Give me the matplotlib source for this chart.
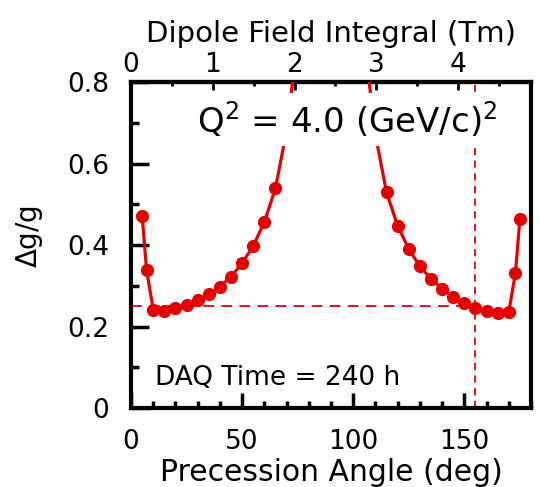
import numpy as np
import matplotlib
matplotlib.use('Agg')
from matplotlib import pyplot as plt
from matplotlib.ticker import MultipleLocator, FixedLocator, FuncFormatter

plt.rcParams['font.family'] = ['DejaVu Sans']
plt.rcParams['mathtext.fontset'] = 'dejavusans'

# precession angle (deg) and relative error dg/g
angle = [5, 7, 10, 15, 20, 25, 30, 35, 40, 45, 50, 55, 60, 65, 70, 75,
         105, 110, 115, 120, 125, 130, 135, 140, 145, 150, 155, 160, 165, 170, 173, 175]
dg_g = [0.472, 0.339, 0.241, 0.237, 0.245, 0.252, 0.265, 0.279, 0.298, 0.322,
        0.355, 0.398, 0.456, 0.539, 0.68, 0.90,
        0.90, 0.67, 0.529, 0.447, 0.390, 0.348, 0.317, 0.293, 0.273, 0.257,
        0.246, 0.239, 0.232, 0.236, 0.331, 0.463]

chosen_angle = 155
chosen_dg = 0.25
deg_per_tm = 36.8
tm_ticks = [0, 1, 2, 3, 4]

red = '#e60000'

fig = plt.figure(figsize=(5.4, 4.87), dpi=100)
ax = fig.add_axes([0.2426, 0.1622, 0.9833 - 0.2426, 0.8316 - 0.1622])

ax.plot(angle, dg_g, color=red, lw=2.3, marker='o', ms=8.5, zorder=3)
ax.plot([0, chosen_angle], [chosen_dg, chosen_dg], color=red, lw=1.3,
        dashes=(6, 4), zorder=2)
ax.axvline(chosen_angle, color=red, lw=1.3, dashes=(4, 3), zorder=2)

ax.set_xlim(0, 180)
ax.set_ylim(0, 0.8)
ax.xaxis.set_major_locator(MultipleLocator(50))
ax.xaxis.set_minor_locator(MultipleLocator(10))
ax.yaxis.set_major_locator(MultipleLocator(0.2))
ax.yaxis.set_minor_locator(MultipleLocator(0.1))
ax.yaxis.set_major_formatter(FuncFormatter(lambda v, p: '0' if abs(v) < 1e-9 else '%.1f' % v))

for s in ax.spines.values():
    s.set_linewidth(3)
ax.tick_params(which='both', direction='in', top=False, right=False, width=2.5)
ax.tick_params(axis='x', which='major', length=11, labelsize=19, pad=15)
ax.tick_params(axis='x', which='minor', length=5)
ax.tick_params(axis='y', which='major', length=13, labelsize=19, pad=16)
ax.tick_params(axis='y', which='minor', length=6)

ax.set_xlabel('Precession Angle (deg)', fontsize=21.5, labelpad=2)
ax.set_ylabel(r'$\Delta$g/g', fontsize=20)
ax.yaxis.set_label_coords(-0.215, 0.525)

top = ax.secondary_xaxis('top', functions=(lambda d: d / deg_per_tm, lambda t: t * deg_per_tm))
top.xaxis.set_major_locator(FixedLocator(tm_ticks))
top.xaxis.set_minor_locator(MultipleLocator(0.5))
top.spines['top'].set_linewidth(3)
top.tick_params(which='both', direction='in', width=2)
top.tick_params(which='major', length=6, labelsize=19, pad=3)
top.tick_params(which='minor', length=3)
top.set_xlabel('Dipole Field Integral (Tm)', fontsize=21, labelpad=7)

ax.text(29.5, 0.677, r'Q$^2$ = 4.0 (GeV/c)$^2$', fontsize=24.5, ha='left', va='baseline',
        zorder=5, bbox=dict(facecolor='white', edgecolor='none', pad=5))
ax.text(10.7, 0.056, 'DAQ Time = 240 h', fontsize=19, ha='left', va='baseline')

fig.savefig('out.png', dpi=100)
